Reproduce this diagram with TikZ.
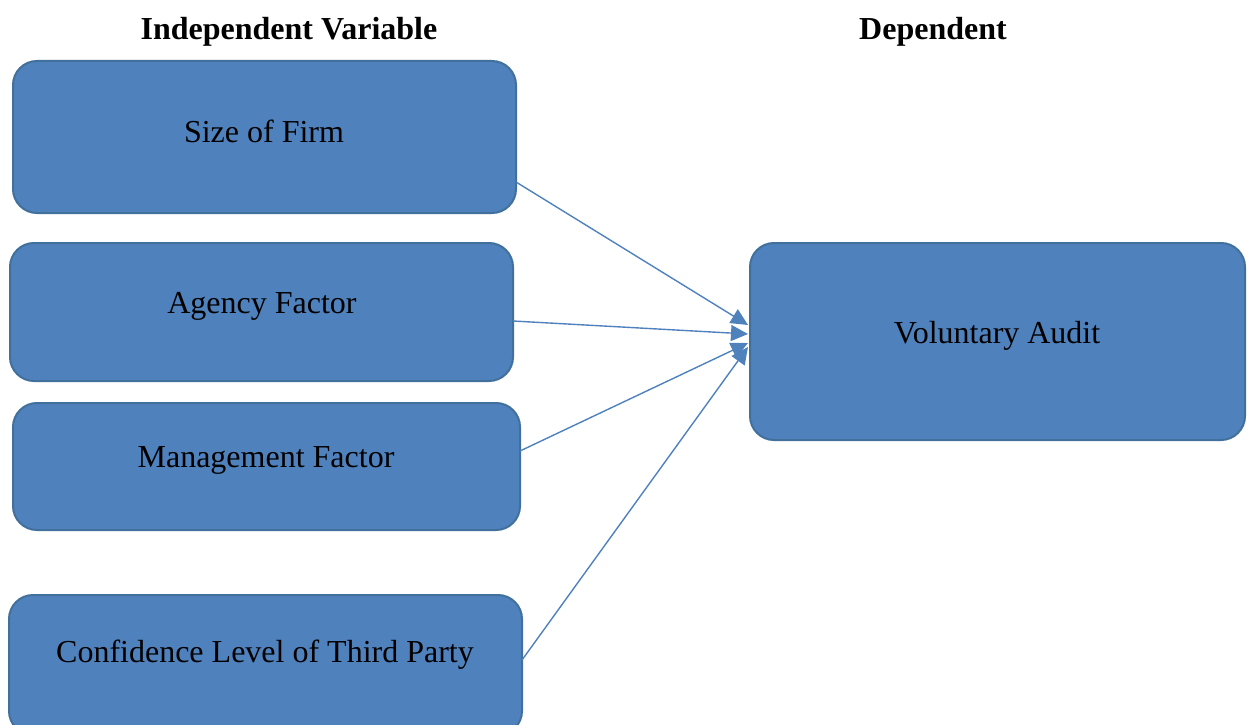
\documentclass[tikz,border=0pt]{standalone}
\usepackage{fontspec}
\setmainfont{Liberation Serif}
\usetikzlibrary{arrows.meta}
\definecolor{boxfill}{HTML}{4F81BD}
\definecolor{boxline}{HTML}{41709C}
\begin{document}
\begin{tikzpicture}[x=1pt,y=-1pt,
  box/.style={draw=boxline,fill=boxfill,line width=2pt,rounded corners=24pt},
  lbl/.style={font=\fontsize{32}{38}\selectfont,text=black},
  head/.style={font=\fontsize{32}{38}\selectfont\bfseries,text=black},
  conn/.style={draw=boxfill,line width=1.4pt,-{Triangle[length=17pt,width=16pt]}}]
\useasboundingbox (0,0) rectangle (1251,725);
\draw[box] (13,61) rectangle (516,213);
\draw[box] (10,243) rectangle (513,381);
\draw[box] (13,403) rectangle (520,530);
\draw[box] (9,595) rectangle (522,735);
\draw[box] (750,243) rectangle (1245,440);
\node[head] (h1) at (289,32) {Independent Variable};
\node[head] (h2) at (933,32) {Dependent};
\node[lbl] (t1) at (264,131) {Size of Firm};
\node[lbl] (t2) at (262,306) {Agency Factor};
\node[lbl] (t3) at (266,460) {Management Factor};
\node[lbl] (t4) at (265,655) {Confidence Level of Third Party};
\node[lbl] (t5) at (997,336) {Voluntary Audit};
\coordinate (s1) at (516,182);
\coordinate (s2) at (513,321);
\coordinate (s3) at (520,451);
\coordinate (s4) at (522,660);
\coordinate (e1) at (748,325);
\coordinate (e2) at (748,334);
\coordinate (e3) at (748,343);
\coordinate (e4) at (748,347);
\draw[conn] (s1) -- (e1);
\draw[conn] (s2) -- (e2);
\draw[conn] (s3) -- (e3);
\draw[conn] (s4) -- (e4);
\end{tikzpicture}
\end{document}
